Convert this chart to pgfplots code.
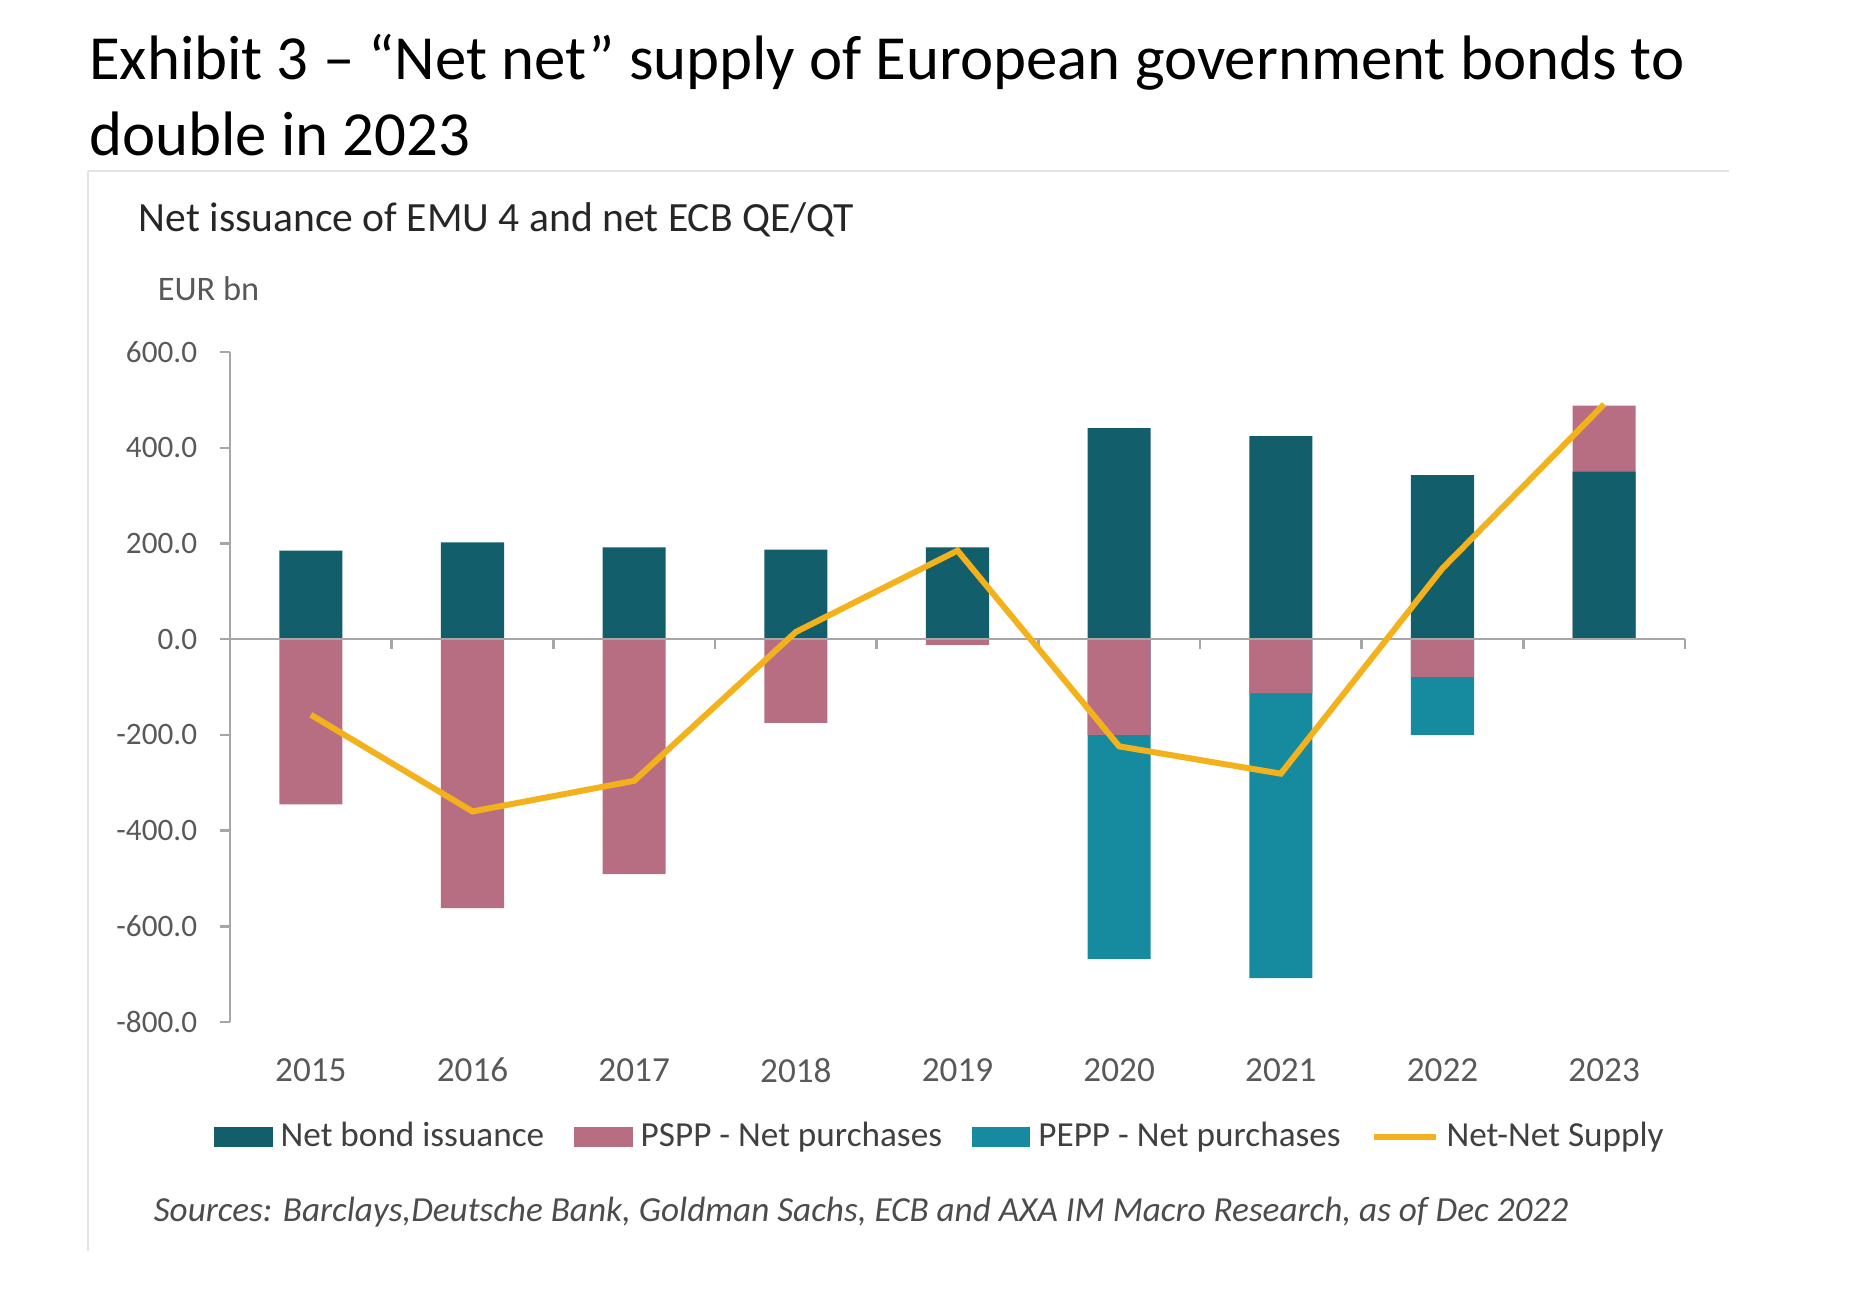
\documentclass[border=0pt]{standalone}
\usepackage{pgfplots}
\pgfplotsset{compat=1.18}
\usepackage{fontspec}
\setmainfont{Carlito}
\definecolor{netbond}{HTML}{125E6B}
\definecolor{pspp}{HTML}{B86E82}
\definecolor{pepp}{HTML}{168BA0}
\definecolor{netnet}{HTML}{F3B21C}
\definecolor{axgray}{HTML}{A6A6A6}
\definecolor{txtgray}{HTML}{595959}
\definecolor{rulegray}{HTML}{E3E3E3}
\begin{document}
\begin{tikzpicture}
\useasboundingbox (0pt,0pt) rectangle (462.5pt,-327.75pt);
% title
\node[anchor=base west, inner sep=0pt, font=\fontsize{15.7}{18}\selectfont] at (22.1pt,-19.75pt) {Exhibit 3 – “Net net” supply of European government bonds to};
\node[anchor=base west, inner sep=0pt, font=\fontsize{15.7}{18}\selectfont] at (22.1pt,-38.75pt) {double in 2023};
\draw[rulegray, line width=0.6pt] (22pt,-42.75pt) -- (432.25pt,-42.75pt);
\draw[rulegray, line width=0.6pt] (22pt,-42.75pt) -- (22pt,-312.75pt);
\node[anchor=base west, inner sep=0pt, font=\fontsize{10.4}{12}\selectfont, text=black!85] at (34.5pt,-57.75pt) {Net issuance of EMU 4 and net ECB QE/QT};
\node[anchor=base west, inner sep=0pt, font=\fontsize{8.6}{10}\selectfont, text=txtgray] at (39.25pt,-75pt) {EUR bn};
\node[anchor=base west, inner sep=0pt, font=\itshape\fontsize{8.8}{10}\selectfont, text=black!70] at (38.25pt,-305.25pt) {Sources: Barclays,Deutsche Bank, Goldman Sachs, ECB and AXA IM Macro Research, as of Dec 2022};
\begin{axis}[
  at={(57.5pt,-255.5pt)}, anchor=south west,
  scale only axis, width=363.75pt, height=167.5pt,
  xmin=-0.5, xmax=8.5, ymin=-800, ymax=600,
  axis y line*=left, axis x line*=bottom,
  x axis line style={draw=none},
  y axis line style={axgray, line width=0.6pt},
  xtick={0,...,8},
  xticklabels={2015,2016,2017,2018,2019,2020,2021,2022,2023},
  xtick style={draw=none},
  ytick={-800,-600,...,600},
  ytick style={axgray, line width=0.6pt},
  tick align=outside, major tick length=2.5pt,
  yticklabel style={/pgf/number format/fixed, /pgf/number format/fixed zerofill, /pgf/number format/precision=1, /pgf/number format/use period, /pgf/number format/1000 sep={}},
  /pgf/number format/assume math mode=true,
  yticklabel style={font=\fontsize{7.8}{10}\selectfont, text=txtgray, xshift=-2.2pt},
  xticklabel style={font=\fontsize{8.8}{10}\selectfont, text=txtgray, yshift=-3pt},
  legend style={at={(0.49,-0.172)}, anchor=center, draw=none, fill=none,
    font=\fontsize{8.8}{10}\selectfont, text=black!75,
    /tikz/every even column/.append style={column sep=5.5pt},
    inner sep=0pt, row sep=0pt},
  legend columns=4,
  legend cell align=left,
  clip=false,
]
\addlegendimage{legend image code/.code={\fill[netbond] (0pt,-2.3pt) rectangle (14.2pt,2.3pt);}}
\addlegendimage{legend image code/.code={\fill[pspp] (0pt,-2.3pt) rectangle (14.2pt,2.3pt);}}
\addlegendimage{legend image code/.code={\fill[pepp] (0pt,-2.3pt) rectangle (14.2pt,2.3pt);}}
\addlegendimage{legend image code/.code={\draw[netnet, line width=1.5pt] (0pt,0pt) -- (15.5pt,0pt);}}
% PEPP (cumulative with PSPP below zero)
\addplot[ybar, bar width=0.39, bar shift=0pt, fill=pepp, draw=none, forget plot]
  coordinates {(5,-668) (6,-708) (7,-200)};
% PSPP (2023 stacked on net bond issuance)
\addplot[ybar, bar width=0.39, bar shift=0pt, fill=pspp, draw=none, forget plot]
  coordinates {(0,-345) (1,-562) (2,-491) (3,-175) (4,-12) (5,-200) (6,-113) (7,-79) (8,488)};
% Net bond issuance
\addplot[ybar, bar width=0.39, bar shift=0pt, fill=netbond, draw=none, forget plot]
  coordinates {(0,185) (1,202) (2,192) (3,187) (4,192) (5,441) (6,424) (7,343) (8,350)};
% zero line and ticks
\draw[axgray, line width=0.6pt] (axis cs:-0.5,0) -- (axis cs:8.5,0);
\pgfplotsinvokeforeach{0.5,1.5,2.5,3.5,4.5,5.5,6.5,7.5,8.5}{
  \draw[axgray, line width=0.6pt] (axis cs:#1,0) -- ++(0pt,-2.5pt);
}
% Net-Net supply
\addplot[netnet, line width=1.5pt, forget plot]
  coordinates {(0,-158) (1,-360) (2,-296) (3,15) (4,185) (5,-224) (6,-281) (7,148) (8,491)};
\legend{Net bond issuance, PSPP - Net purchases, PEPP - Net purchases, Net-Net Supply}
\end{axis}
\end{tikzpicture}
\end{document}
